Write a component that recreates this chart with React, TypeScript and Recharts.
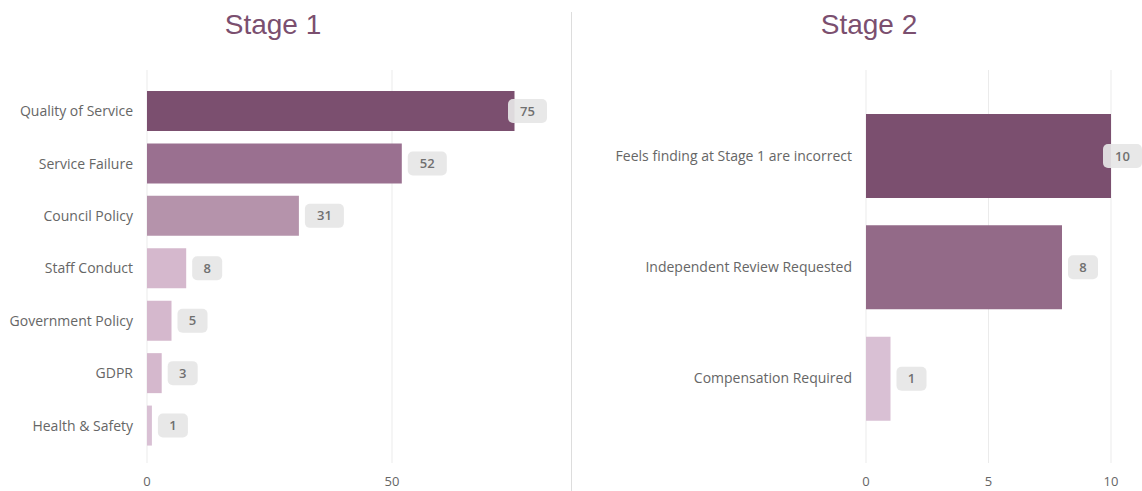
import { BarChart, Bar, XAxis, YAxis, CartesianGrid, Cell, LabelList } from "recharts";

const stage1Categories = [
  "Quality of Service",
  "Service Failure",
  "Council Policy",
  "Staff Conduct",
  "Government Policy",
  "GDPR",
  "Health & Safety",
];
const stage1Values = [75, 52, 31, 8, 5, 3, 1];
const stage1Colors = ["#7b4f6f", "#9a7090", "#b593ab", "#d5b8cd", "#d5b8cd", "#d5b8cd", "#d9c0d4"];
const stage1Ticks = [0, 50];

const stage2Categories = [
  "Feels finding at Stage 1 are incorrect",
  "Independent Review Requested",
  "Compensation Required",
];
const stage2Values = [10, 8, 1];
const stage2Colors = ["#7b4f6f", "#936a88", "#d9c0d4"];
const stage2Ticks = [0, 5, 10];

const FONT = "'Segoe UI', 'Open Sans', sans-serif";
const TITLE = "#7b4f6f";
const GRID = "#ebebeb";

const stage1Data = stage1Categories.map((name, i) => ({ name, value: stage1Values[i] }));
const stage2Data = stage2Categories.map((name, i) => ({ name, value: stage2Values[i] }));

// grey pill after the bar end, pushed back inside if it would run off the edge
function makeLabel(clampRight: number) {
  return (props: any) => {
    const { x, y, width, height, value } = props;
    const w = String(value).length > 1 ? 39 : 30;
    let bx = x + width + 6;
    if (bx + w > clampRight) bx = clampRight - w;
    const cy = y + height / 2;
    return (
      <g>
        <rect x={bx} y={cy - 12} width={w} height={24} rx={5} fill="#e6e6e6" fillOpacity={0.92} />
        <text
          x={bx + w / 2}
          y={cy}
          dy="0.35em"
          textAnchor="middle"
          fontSize={13}
          fontWeight={600}
          fontFamily={FONT}
          fill="#707070"
        >
          {value}
        </text>
      </g>
    );
  };
}

const tickStyle = { fontSize: 13, fill: "#666", fontFamily: FONT };
const catTickStyle = { fontSize: 14, fill: "#666", fontFamily: FONT };

const titleStyle = {
  position: "absolute" as const,
  width: 200,
  top: 9,
  textAlign: "center" as const,
  fontFamily: "'Liberation Sans', Arial, sans-serif",
  fontSize: 28,
  color: TITLE,
};

export default function App() {
  return (
    <div
      style={{
        position: "absolute",
        left: 0,
        top: 0,
        width: 1142,
        height: 491,
        background: "#fff",
        overflow: "hidden",
      }}
    >
      <div style={{ ...titleStyle, left: 173 }}>Stage 1</div>
      <div style={{ ...titleStyle, left: 769 }}>Stage 2</div>
      <div
        style={{
          position: "absolute",
          left: 571,
          top: 12,
          width: 1,
          height: 479,
          background: "#dddddd",
        }}
      />

      <div style={{ position: "absolute", left: 0, top: 0 }}>
        <BarChart
          width={572}
          height={491}
          data={stage1Data}
          layout="vertical"
          margin={{ top: 70, right: 8.5, left: 0, bottom: 0 }}
        >
          <CartesianGrid horizontal={false} stroke={GRID} syncWithTicks />
          <XAxis
            type="number"
            domain={[0, 85]}
            ticks={stage1Ticks}
            axisLine={false}
            tickLine={false}
            tickSize={0}
            tickMargin={14}
            height={28}
            tick={tickStyle}
          />
          <YAxis
            type="category"
            dataKey="name"
            width={147}
            axisLine={false}
            tickLine={false}
            tickSize={0}
            tickMargin={14}
            padding={{ top: 15, bottom: 11 }}
            tick={catTickStyle}
          />
          <Bar dataKey="value" barSize={40} isAnimationActive={false}>
            {stage1Data.map((_, i) => (
              <Cell key={i} fill={stage1Colors[i]} />
            ))}
            <LabelList dataKey="value" content={makeLabel(547)} />
          </Bar>
        </BarChart>
      </div>

      <div style={{ position: "absolute", left: 572, top: 0 }}>
        <BarChart
          width={570}
          height={491}
          data={stage2Data}
          layout="vertical"
          margin={{ top: 70, right: 31, left: 0, bottom: 0 }}
        >
          <CartesianGrid horizontal={false} stroke={GRID} syncWithTicks />
          <XAxis
            type="number"
            domain={[0, 10]}
            ticks={stage2Ticks}
            axisLine={false}
            tickLine={false}
            tickSize={0}
            tickMargin={14}
            height={28}
            tick={tickStyle}
          />
          <YAxis
            type="category"
            dataKey="name"
            width={294}
            axisLine={false}
            tickLine={false}
            tickSize={0}
            tickMargin={14}
            padding={{ top: 30, bottom: 29 }}
            tick={catTickStyle}
          />
          <Bar dataKey="value" barSize={84} isAnimationActive={false}>
            {stage2Data.map((_, i) => (
              <Cell key={i} fill={stage2Colors[i]} />
            ))}
            <LabelList dataKey="value" content={makeLabel(570)} />
          </Bar>
        </BarChart>
      </div>
    </div>
  );
}
